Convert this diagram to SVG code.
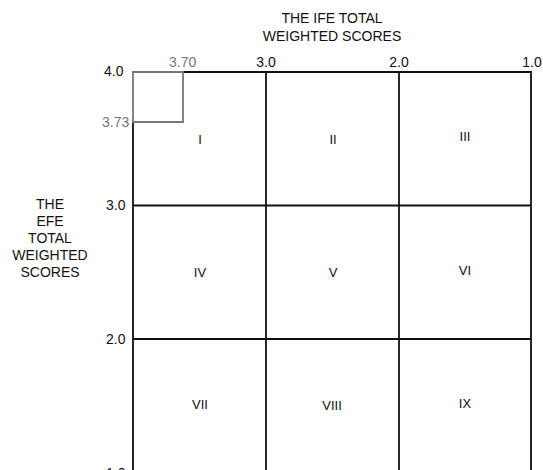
<svg xmlns="http://www.w3.org/2000/svg" width="543" height="470" viewBox="0 0 543 470">
<style>
text{font-family:"Liberation Sans",Arial,sans-serif;fill:#111}
.ax{font-size:14px}
.g{fill:#777}
.rn{font-size:13px;text-anchor:middle}
.t{font-size:14px;text-anchor:middle}
.ln{stroke:#111;stroke-width:1.8;fill:none}
</style>
<rect width="543" height="470" fill="#fff"/>
<g id="titles">
<text class="t" x="332" y="23">THE IFE TOTAL</text>
<text class="t" x="332" y="41">WEIGHTED SCORES</text>
<text class="t" x="50" y="209">THE</text>
<text class="t" x="50" y="226">EFE</text>
<text class="t" x="50" y="243">TOTAL</text>
<text class="t" x="50" y="260">WEIGHTED</text>
<text class="t" x="50" y="277">SCORES</text>
</g>
<g id="axis-labels">
<text class="ax" x="104" y="76">4.0</text>
<text class="ax g" x="169" y="67">3.70</text>
<text class="ax" x="266" y="67" text-anchor="middle">3.0</text>
<text class="ax" x="399" y="67" text-anchor="middle">2.0</text>
<text class="ax" x="532" y="67" text-anchor="middle">1.0</text>
<text class="ax g" x="102" y="127">3.73</text>
<text class="ax" x="106" y="210">3.0</text>
<text class="ax" x="106" y="344">2.0</text>
<text class="ax" x="106" y="478">1.0</text>
</g>
<g id="connectors">
<path class="ln" d="M183 72H531V475M133 122V475M266 72V475M399 72V475M133 205.5H531M133 339H531"/>
<path d="M133 72H183V122H133Z" fill="none" stroke="#777" stroke-width="1.8"/>
</g>
<g id="cell-I"><text class="rn" x="200" y="144">I</text></g>
<g id="cell-II"><text class="rn" x="333" y="144">II</text></g>
<g id="cell-III"><text class="rn" x="465" y="141">III</text></g>
<g id="cell-IV"><text class="rn" x="200" y="277">IV</text></g>
<g id="cell-V"><text class="rn" x="333" y="277">V</text></g>
<g id="cell-VI"><text class="rn" x="465" y="275">VI</text></g>
<g id="cell-VII"><text class="rn" x="200" y="409">VII</text></g>
<g id="cell-VIII"><text class="rn" x="332" y="410">VIII</text></g>
<g id="cell-IX"><text class="rn" x="465" y="408">IX</text></g>
</svg>
